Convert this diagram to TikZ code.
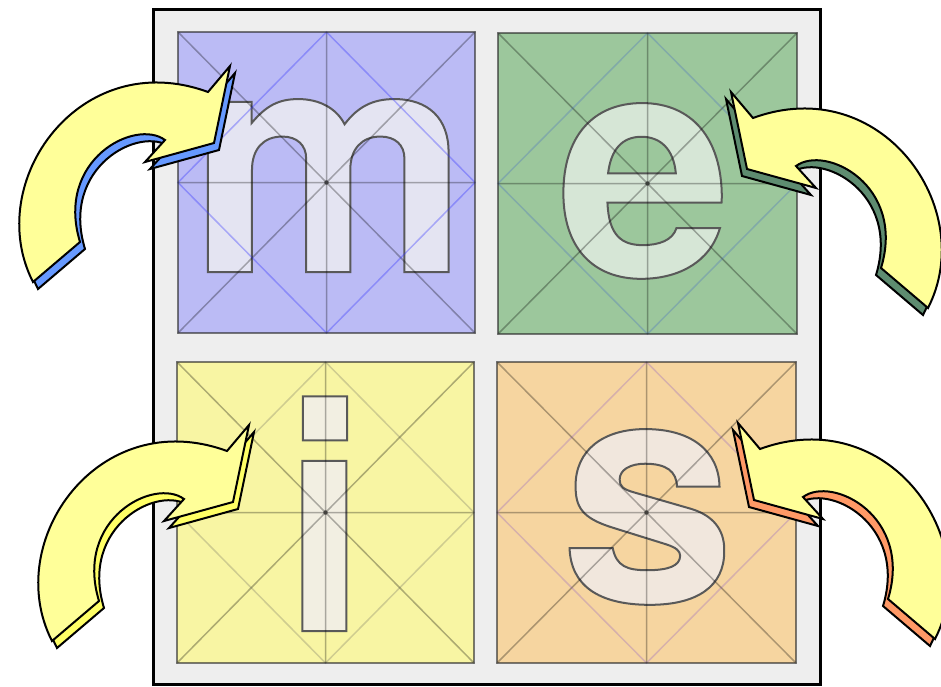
\documentclass[tikz,border=0pt]{standalone}
\usepackage{fontspec}
\newfontfamily\letterfont{TeX Gyre Heros}
\definecolor{mfill}{HTML}{BBBBF5}
\definecolor{efill}{HTML}{9CC79C}
\definecolor{ifill}{HTML}{F8F5A3}
\definecolor{sfill}{HTML}{F6D5A0}
\definecolor{mlet}{HTML}{E4E4F2}
\definecolor{elet}{HTML}{D6E6D6}
\definecolor{ilet}{HTML}{F2EFE2}
\definecolor{slet}{HTML}{F1E7DD}
\definecolor{arrowyellow}{HTML}{FFFF99}
\definecolor{mshadow}{HTML}{6699FF}
\definecolor{eshadow}{HTML}{5E8C70}
\definecolor{ishadow}{HTML}{FFFF66}
\definecolor{sshadow}{HTML}{FF9966}
\definecolor{framegray}{HTML}{EEEEEE}
\definecolor{mdia}{HTML}{3333FF}
\definecolor{edia}{HTML}{3355CC}
\definecolor{idia}{HTML}{555555}
\definecolor{sdia}{HTML}{7744CC}
\newcommand\outlined[1]{\special{pdf:literal direct 2 Tr 0.35 0.35 0.35 RG 2 w}#1\special{pdf:literal direct 0 Tr}}
\tikzset{
  arrowbody/.style={draw=black, line width=2, fill=arrowyellow, line join=miter},
  arrowside/.style={draw=black, line width=2, fill=#1, line join=miter},
  guide/.style={draw=black, opacity=0.3, line width=1.5},
  sqborder/.style={draw=black!85, opacity=0.6, line width=2.2},
  letterstyle/.style={anchor=base, inner sep=0pt, font=\letterfont\bfseries\fontsize{315}{315}\selectfont},
  pics/curvedarrow/.style={code={
    \draw[arrowside=#1, shift={(5,7)}] (33,282) .. controls (-18,182) and (80,45) .. (208,92)
      -- (230,66) -- (214,143) -- (145,162) -- (165,140)
      .. controls (135,118) and (55,160) .. (80,242) -- cycle;
    \draw[arrowbody] (33,282) .. controls (-18,182) and (80,45) .. (208,92)
      -- (230,66) -- (214,143) -- (145,162) -- (165,140)
      .. controls (135,118) and (55,160) .. (80,242) -- cycle;
  }}
}
\begin{document}
\begin{tikzpicture}[x=1pt, y=-1pt]
\useasboundingbox (0,0) rectangle (941,686);
\fill[white] (0,0) rectangle (941,686);
\draw[line width=3, fill=framegray] (153,9) rectangle (820,684);
\foreach \n/\xa/\ya/\xb/\yb/\fc/\dc/\dop/\lc/\lx/\ly in {
  m/178/32/475/333/mfill/mdia/0.35/mlet/329/272,
  e/498/33/797/334/efill/edia/0.25/elet/644/276,
  i/177/362/474/663/ifill/idia/0.25/ilet/325/631,
  s/497/362/796/663/sfill/sdia/0.25/slet/648/602}{
  \pgfmathsetmacro\mx{(\xa+\xb)/2}
  \pgfmathsetmacro\my{(\ya+\yb)/2}
  \fill[\fc] (\xa,\ya) rectangle (\xb,\yb);
  \node[letterstyle, text=\lc] (\n) at (\lx,\ly) {\outlined{\n}};
  \draw[guide] (\xa,\ya) -- (\xb,\yb) (\xa,\yb) -- (\xb,\ya)
               (\mx,\ya) -- (\mx,\yb) (\xa,\my) -- (\xb,\my);
  \draw[draw=\dc, opacity=\dop, line width=1.5] (\mx,\ya) -- (\xb,\my) -- (\mx,\yb) -- (\xa,\my) -- cycle;
  \fill[black, opacity=0.6] (\mx,\my) circle (2.2);
  \draw[sqborder] (\xa,\ya) rectangle (\xb,\yb);
}
\pic[transform shape] {curvedarrow=mshadow};
\begin{scope}[shift={(19,359)}]
  \pic[transform shape] {curvedarrow=ishadow};
\end{scope}
\begin{scope}[shift={(961,26)}, xscale=-1]
  \pic[transform shape] {curvedarrow=eshadow};
\end{scope}
\begin{scope}[shift={(968,357)}, xscale=-1]
  \pic[transform shape] {curvedarrow=sshadow};
\end{scope}
\end{tikzpicture}
\end{document}
